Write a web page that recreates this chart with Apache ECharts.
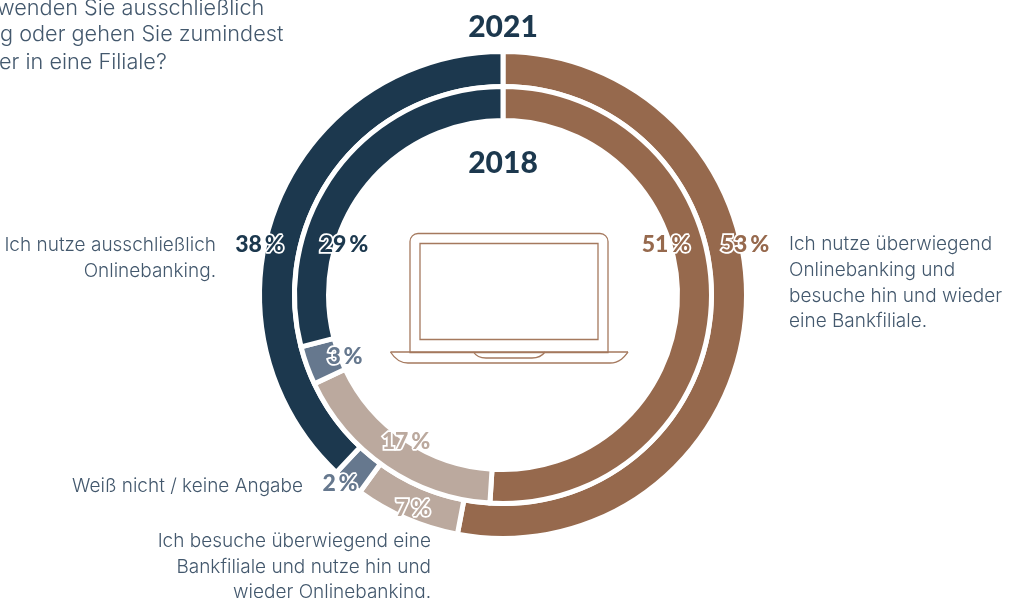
<!DOCTYPE html>
<html><head><meta charset="utf-8">
<style>html,body{margin:0;padding:0;background:#fff;overflow:hidden}#c{width:1014px;height:598px}</style>
<script src="https://cdn.jsdelivr.net/npm/echarts@6/dist/echarts.min.js"></script>
</head><body><div id="c"></div>
<script>
const categories = ['Ich nutze überwiegend Onlinebanking und besuche hin und wieder eine Bankfiliale.','Ich besuche überwiegend eine Bankfiliale und nutze hin und wieder Onlinebanking.','Weiß nicht / keine Angabe','Ich nutze ausschließlich Onlinebanking.'];
const values2021 = [53, 7, 2, 38];
const values2018 = [51, 17, 3, 29];
const colors = ['#96694d', '#bba99e', '#66788e', '#1c384e'];
const yearOuter = '2021', yearInner = '2018';
const questionLines = ['wenden Sie ausschließlich', 'g oder gehen Sie zumindest', 'er in eine Filiale?'];
const labelLinesRight = ['Ich nutze überwiegend', 'Onlinebanking und', 'besuche hin und wieder', 'eine Bankfiliale.'];
const labelLinesBottom = ['Ich besuche überwiegend eine', 'Bankfiliale und nutze hin und', 'wieder Onlinebanking.'];
const labelLinesLeft = ['Ich nutze ausschließlich', 'Onlinebanking.'];
const labelUnknown = 'Weiß nicht / keine Angabe';

const CX = 503, CY = 295, TEXT = '#43586d', FONT = 'Lato, sans-serif', BODY = 'Inter, sans-serif';
const chart = echarts.init(document.getElementById('c'), null, {renderer:'canvas'});
const pie = (vals, radius) => ({
  type:'pie', center:[CX,CY], radius, startAngle:90, clockwise:true, silent:true, animation:false,
  label:{show:false}, labelLine:{show:false}, emphasis:{disabled:true},
  itemStyle:{borderColor:'#fff', borderWidth:5},
  data: vals.map((v,i)=>({name:categories[i], value:v, itemStyle:{color:colors[i]}}))
});
const txt = (text,x,y,align,size,fill,weight,fam) => ({type:'text', silent:true, z:10, style:{text,x,y,align,verticalAlign:'middle',fill,font:`${weight} ${size}px ${fam||BODY}`}});
const pct = (v,x,y,fill) => ({type:'text', silent:true, z:20, style:{text:v+'\u2009%',x,y,align:'center',verticalAlign:'middle',fill,font:`900 23px ${FONT}`,stroke:'#fff',lineWidth:3.5,lineJoin:'round'}});
const line = '#a5795e';
const curve = (x1,y1,cpx1,cpy1,cpx2,cpy2,x2,y2) => ({type:'bezierCurve',silent:true,z:5,shape:{x1,y1,cpx1,cpy1,cpx2,cpy2,x2,y2},style:{fill:'none',stroke:line,lineWidth:1.3}});
const seg = (x1,y1,x2,y2) => ({type:'line',silent:true,z:5,shape:{x1,y1,x2,y2},style:{stroke:line,lineWidth:1.3}});
const graphics = [
  txt(yearOuter,CX,27,'center',30,colors[3],900,FONT),
  txt(yearInner,CX,163,'center',30,colors[3],900,FONT),
  pct(values2021[3],259.5,245,colors[3]),
  pct(values2018[3],344,245,colors[3]),
  pct(values2018[0],666,245,colors[0]),
  pct(values2021[0],745,245,colors[0]),
  pct(values2018[2],345,357,colors[2]),
  pct(values2018[1],406,442,colors[1]),
  pct(values2021[1],413,509,colors[1]),
  pct(values2021[2],340,484,colors[2]),
  txt(labelUnknown,303,486,'right',19,TEXT,300),
  {type:'rect',silent:true,z:5,shape:{x:410,y:233.5,width:198,height:119,r:[8,8,0,0]},style:{fill:'none',stroke:line,lineWidth:1.3}},
  {type:'rect',silent:true,z:5,shape:{x:420,y:243.5,width:178,height:96},style:{fill:'none',stroke:line,lineWidth:1.3}},
  seg(390.5,352,628,352), seg(408,363,610,363), seg(486,358,532,358),
  curve(390.5,352,393,356,398,363,408,363),
  curve(628,352,625,356,620,363,610,363),
  curve(473.5,352,476,356,480,358,486,358),
  curve(545,352,542,356,538,358,532,358)
];
questionLines.forEach((s,i)=>graphics.push(txt(s,[-3,0,-1][i],[8,34,62][i],'left',21.7,TEXT,300)));
labelLinesRight.forEach((s,i)=>graphics.push(txt(s,789,244.5+i*25.7,'left',19,TEXT,300)));
labelLinesBottom.forEach((s,i)=>graphics.push(txt(s,431,541.5+i*25.5,'right',19,TEXT,300)));
labelLinesLeft.forEach((s,i)=>graphics.push(txt(s,216,245.5+i*26,'right',19,TEXT,300)));
chart.setOption({animation:false, backgroundColor:'#fff',
  series:[pie(values2021,[208.5,243.5]), pie(values2018,[174.5,208.5])],
  graphic:{elements:graphics}
});
</script></body></html>
